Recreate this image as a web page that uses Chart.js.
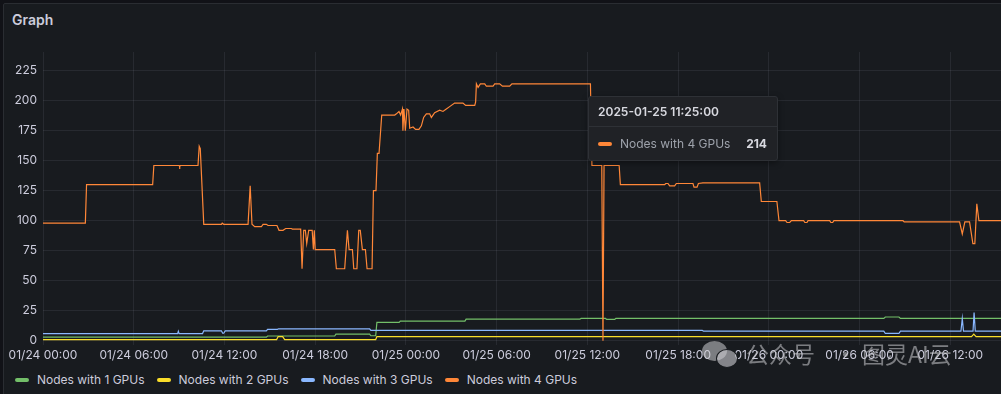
<!DOCTYPE html>
<html>
<head>
<meta charset="utf-8">
<script src="https://cdn.jsdelivr.net/npm/chart.js@4.4.1/dist/chart.umd.min.js"></script>
<style>
  html, body { margin: 0; padding: 0; width: 1001px; height: 394px; overflow: hidden; background: #111217; font-family: Inter, "Noto Sans", sans-serif; }
  #panel { position: absolute; left: 3px; top: 3px; width: 1030px; height: 430px; background: #181b1f; border: 1px solid #2a2d32; border-radius: 2px; }
  #title { position: absolute; left: 12px; top: 12px; font-size: 14px; line-height: 16px; font-weight: 600; color: #ccccdc; }
  #wrap { position: absolute; left: 0; top: 0; width: 1001px; height: 366px; }
  #legend { position: absolute; left: 15px; top: 372px; display: flex; gap: 12px; font-size: 12px; line-height: 16px; color: #ccccdc; }
  #legend .item { display: flex; align-items: center; }
  #legend .mk { width: 14px; height: 4px; border-radius: 2px; margin-right: 8px; }
  #tip { position: absolute; left: 588px; top: 96px; width: 190px; height: 65px; box-sizing: border-box; background: #202226; border: 1px solid #2e3136; border-radius: 3px; box-shadow: 0 2px 6px rgba(0,0,0,0.4); }
  #tip .tt { position: absolute; left: 9px; top: 7px; font-size: 12px; line-height: 16px; font-weight: 600; color: #d8d9e0; white-space: nowrap; }
  #tip .sep { position: absolute; left: 0; right: 0; top: 29px; height: 1px; background: #2e3136; }
  #tip .mk { position: absolute; left: 9px; top: 45px; width: 14px; height: 4px; border-radius: 2px; }
  #tip .nm { position: absolute; left: 31px; top: 39px; font-size: 12px; line-height: 16px; color: #9da2ab; white-space: nowrap; }
  #tip .vl { position: absolute; right: 10px; top: 39px; font-size: 12px; line-height: 16px; font-weight: 700; color: #d8d9e0; }
  #wm { position: absolute; left: 0; top: 0; pointer-events: none; }
  #wm .txt { position: absolute; top: 338px; font-family: "Noto Sans CJK SC", sans-serif; font-size: 23px; line-height: 30px; color: rgba(205,205,210,0.55); white-space: nowrap; }
  #wm .b1 { position: absolute; left: 702px; top: 341px; width: 25px; height: 20px; border-radius: 50%; background: rgba(205,205,210,0.55); }
  #wm .b2 { position: absolute; left: 716px; top: 349px; width: 20px; height: 17px; border-radius: 50%; background: rgba(205,205,210,0.6); border: 1px solid #181b1f; }
</style>
</head>
<body>
<div id="panel"></div>
<div id="title">Graph</div>
<div id="wrap"><canvas id="graph"></canvas></div>
<div id="legend"></div>
<div id="tip"></div>
<div id="wm">
  <div class="b1"></div><div class="b2"></div>
  <div class="txt" style="left:746px">公众号</div>
  <div class="txt" style="left:834px">·</div>
  <div class="txt" style="left:862px">图灵AI云</div>
</div>
<script>
// hours since 01/24 00:00 and node counts
const hours1 = [0, 14.77, 14.85, 19.29, 19.37, 21.6, 21.68, 22.0, 22.08, 23.55, 23.63, 27.9, 27.98, 35.5, 35.58,
  37.2, 37.27, 37.8, 37.88, 55.6, 55.7, 56.6, 56.7, 63.35];
const gpu1 = [3, 3, 4, 4, 5.5, 5.5, 4.2, 4.2, 15.3, 15.3, 16.4, 16.4, 18, 18, 18.6,
  18.6, 17.8, 17.8, 18.6, 18.6, 19.8, 19.8, 18.6, 18.6];

const hours2 = [0, 15.45, 15.55, 15.85, 15.98, 22.0, 22.08, 61.4, 61.55, 61.7, 63.35];
const gpu2 = [1, 1, 3.5, 3.5, 1, 1, 3.5, 3.5, 5.5, 3.5, 3.5];

const hours3 = [0, 8.9, 8.95, 9.0, 10.55, 10.63, 11.8, 11.88, 11.95, 12.05, 14.77, 14.85, 15.5, 15.58,
  21.6, 21.68, 43.6, 43.68, 55.6, 55.7, 56.6, 56.7, 60.7, 60.79, 60.87, 61.5, 61.57, 61.65, 63.35];
const gpu3 = [6, 6, 8, 6, 6, 8.3, 8.3, 6.3, 6.3, 8.3, 8.3, 9.5, 9.5, 10,
  10, 8.6, 8.6, 8, 8, 6.1, 6.1, 8, 8, 18.6, 8, 8, 23.6, 8, 8];

const hours4 = [0, 2.8, 2.88, 7.25, 7.33, 9.0, 9.04, 9.08, 10.25, 10.33, 10.4, 10.63,
  11.8, 11.85, 11.95, 13.56, 13.7, 13.82, 14.0, 14.44, 14.55, 14.77, 14.88, 15.47, 15.61, 15.87, 16.05, 16.42, 16.49, 17.04,
  17.13, 17.24, 17.35, 17.44, 17.57, 17.8, 17.88, 17.94, 18.0, 19.29, 19.4, 19.95, 20.13, 20.24, 20.46, 20.55, 20.76,
  20.88, 20.98, 21.12, 21.32, 21.43, 21.76, 21.85, 22.02, 22.11, 22.22, 22.4, 23.26, 23.37, 23.54, 23.65, 23.77,
  23.8, 23.87, 23.96, 24.07, 24.18, 24.25, 24.47, 24.64, 24.86, 25.02, 25.17, 25.35, 25.57, 25.68, 25.9, 26.23,
  26.45, 26.67, 26.89, 27.22, 27.77, 27.95, 28.55, 28.61, 28.66, 28.77, 28.92, 29.21, 29.32, 29.76, 29.87, 30.2,
  30.38, 30.86, 31.01, 36.2, 36.3, 36.95, 37.03, 37.1, 38.1, 38.18, 41.11, 41.18, 41.33, 41.44, 41.77, 41.88,
  42.98, 43.05, 43.25, 43.34, 43.64, 47.39, 47.5, 48.53, 48.67, 49.11, 49.2, 49.38, 49.49, 50.3, 50.38, 50.52,
  50.59, 52.02, 52.1, 52.22, 52.3, 56.87, 56.95, 60.61, 60.79, 60.96, 61.27, 61.49, 61.62, 61.75, 61.89, 63.35];
const gpu4 = [98, 98, 130, 130, 146, 146, 145, 146, 146, 162, 160, 97,
  97, 98, 97, 97, 129, 97, 95, 95, 97, 97, 96, 96, 92, 92, 93.5, 93.5, 93, 93,
  60, 92, 92, 81, 92, 92, 76, 92, 76, 76, 60, 60, 92, 76, 76, 60, 60,
  92, 92, 76, 76, 60, 60, 125, 125, 156, 156, 188, 188, 189, 191, 188, 193,
  175, 193, 175, 193, 192, 177, 178, 176, 176, 179, 186, 189, 189, 186, 190, 192,
  191, 193, 195, 198, 198, 196, 196, 199, 214, 211, 214, 214, 212, 212, 214, 214,
  212, 212, 214, 214, 146, 146, 0, 146, 146, 130, 130, 131, 131, 129, 129, 131,
  131, 128, 128, 131, 131.5, 131.5, 116, 116, 100, 100, 98.5, 98.5, 100, 100, 98.5, 98.5,
  100, 100, 98.5, 98.5, 100, 100, 99, 99, 89, 99, 99, 81, 81, 114, 100, 100];

const seriesNames = ["Nodes with 1 GPUs", "Nodes with 2 GPUs", "Nodes with 3 GPUs", "Nodes with 4 GPUs"];
const seriesColors = ["#73BF69", "#FADE2A", "#8AB8FF", "#FF8738"];
const seriesHours = [hours1, hours2, hours3, hours4];
const seriesValues = [gpu1, gpu2, gpu3, gpu4];

const xTickHours = [0, 6, 12, 18, 24, 30, 36, 42, 48, 54, 60];
const yTicks = [0, 25, 50, 75, 100, 125, 150, 175, 200, 225];

const tipHour = 35 + 25 / 60;
const tipTitle = "2025-01-25 11:25:00";

function fmtHour(h) {
  const day = 24 + Math.floor(h / 24);
  const hh = h % 24;
  return "01/" + day + " " + String(hh).padStart(2, "0") + ":00";
}

Chart.defaults.font.family = "Inter, 'Noto Sans', sans-serif";
Chart.defaults.font.size = 12;
Chart.defaults.color = "#ccccdc";

const gridColor = "rgba(204, 204, 220, 0.09)";

new Chart(document.getElementById("graph").getContext("2d"), {
  type: "line",
  data: {
    datasets: seriesNames.map((name, i) => ({
      label: name,
      data: seriesHours[i].map((h, j) => ({ x: h, y: seriesValues[i][j] })),
      borderColor: seriesColors[i],
      backgroundColor: seriesColors[i],
      borderWidth: 1.2,
      pointRadius: 0,
      tension: 0,
      order: 4 - i
    }))
  },
  options: {
    responsive: true,
    maintainAspectRatio: false,
    animation: false,
    layout: { padding: { top: 52, left: 0, right: 0, bottom: 0 } },
    plugins: {
      legend: { display: false },
      tooltip: { enabled: false }
    },
    scales: {
      x: {
        type: "linear",
        min: 0,
        max: 63.35,
        afterBuildTicks: s => { s.ticks = xTickHours.map(v => ({ value: v })); },
        afterFit: s => { s.height = 21; },
        border: { display: false },
        grid: { color: gridColor, drawTicks: false },
        ticks: { padding: 3, maxRotation: 0, autoSkip: false, callback: v => fmtHour(v) }
      },
      y: {
        min: -3.5,
        max: 240.5,
        afterBuildTicks: s => { s.ticks = yTicks.map(v => ({ value: v })); },
        afterFit: s => { s.width = 43; },
        border: { display: false },
        grid: { color: gridColor, drawTicks: false },
        ticks: { padding: 6 }
      }
    }
  }
});

// legend
const legend = document.getElementById("legend");
seriesNames.forEach((name, i) => {
  const item = document.createElement("div");
  item.className = "item";
  item.innerHTML = '<span class="mk" style="background:' + seriesColors[i] + '"></span><span>' + name + '</span>';
  legend.appendChild(item);
});

// hover tooltip as shown in the picture
let tipVal = gpu4[0];
hours4.forEach((h, j) => { if (h <= tipHour) tipVal = gpu4[j]; });
document.getElementById("tip").innerHTML =
  '<div class="tt">' + tipTitle + '</div><div class="sep"></div>' +
  '<span class="mk" style="background:' + seriesColors[3] + '"></span>' +
  '<span class="nm">' + seriesNames[3] + '</span><span class="vl">' + tipVal + '</span>';
</script>
</body>
</html>
